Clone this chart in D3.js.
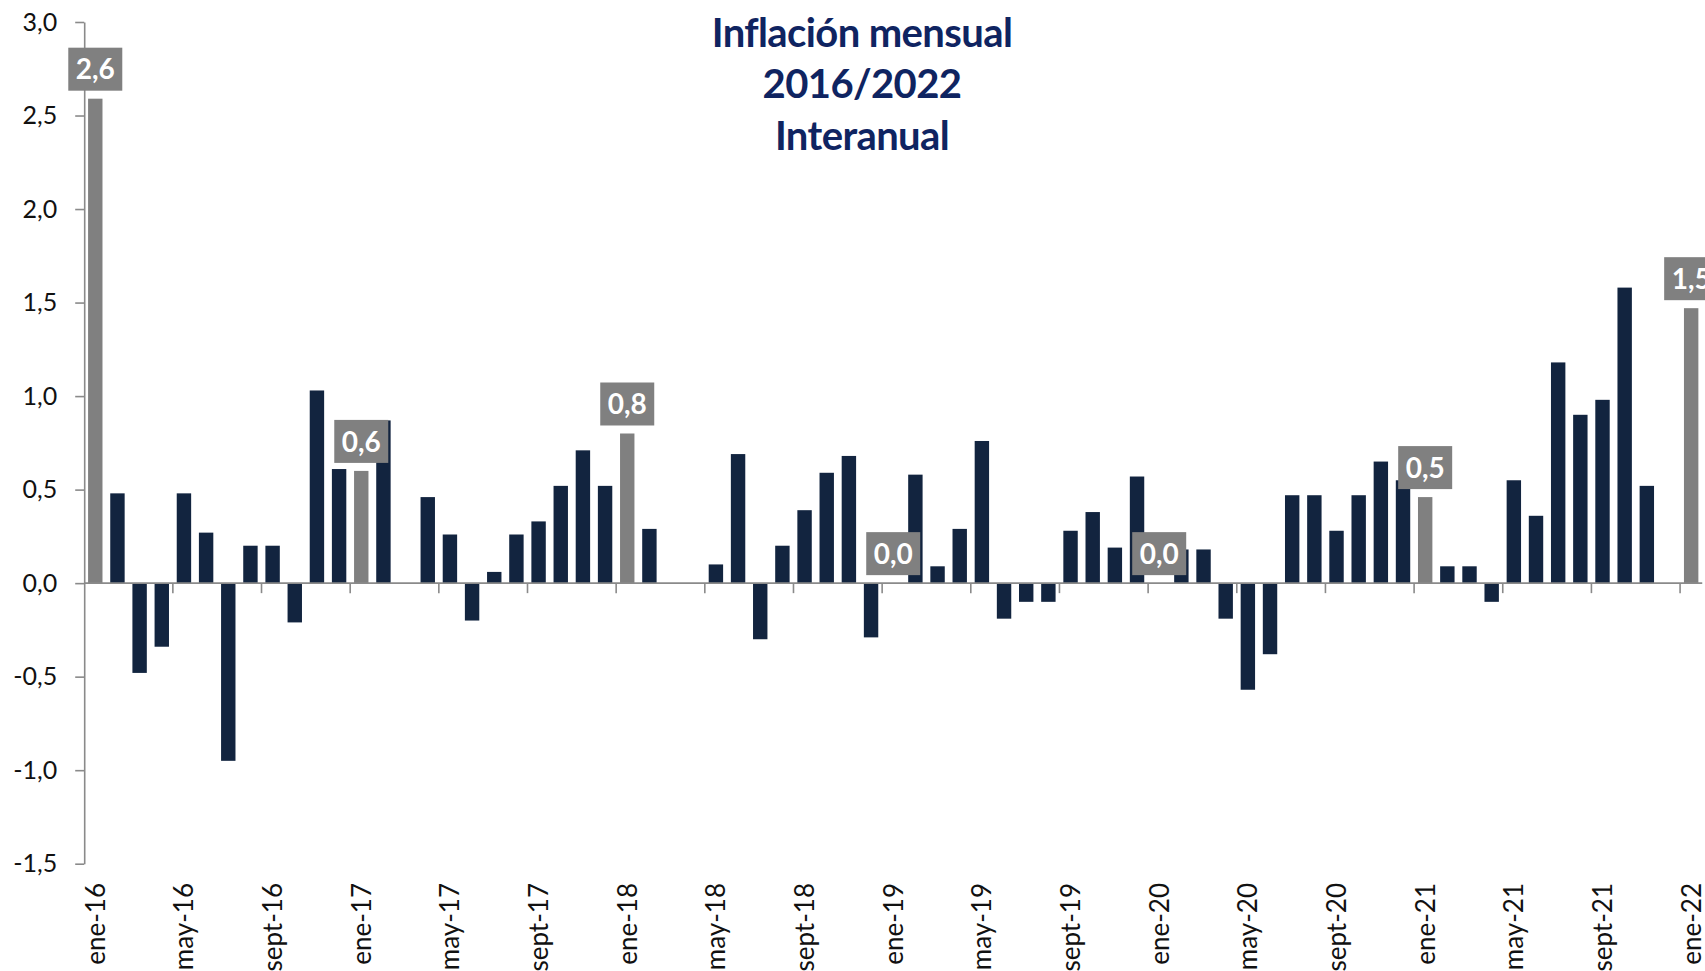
<!DOCTYPE html>
<html>
<head>
<meta charset="utf-8">
<script src="https://d3js.org/d3.v7.min.js"></script>
<style>
  body { margin: 0; background: #fff; }
  svg { display: block; font-family: Lato, "Open Sans", sans-serif; }
</style>
</head>
<body>
<div id="chart"></div>
<script>
// monthly CPI variation, ene-16 .. ene-22 (null = no bar shown)
const monthNames = ['ene','feb','mar','abr','may','jun','jul','ago','sept','oct','nov','dic']
const years = [16, 17, 18, 19, 20, 21, 22]
const values = [
  2.59, 0.48, -0.48, -0.34, 0.48, 0.27, -0.95, 0.20, 0.20, -0.21, 1.03, 0.61,
  0.60, 0.87, null, 0.46, 0.26, -0.20, 0.06, 0.26, 0.33, 0.52, 0.71, 0.52,
  0.80, 0.29, null, null, 0.10, 0.69, -0.30, 0.20, 0.39, 0.59, 0.68, -0.29,
  0.00, 0.58, 0.09, 0.29, 0.76, -0.19, -0.10, -0.10, 0.28, 0.38, 0.19, 0.57,
  0.00, 0.18, 0.18, -0.19, -0.57, -0.38, 0.47, 0.47, 0.28, 0.47, 0.65, 0.55,
  0.46, 0.09, 0.09, -0.10, 0.55, 0.36, 1.18, 0.90, 0.98, 1.58, 0.52, null,
  1.47
]
const yTicks = [-1.5, -1.0, -0.5, 0, 0.5, 1.0, 1.5, 2.0, 2.5, 3.0]
const titleLines = ['Inflación mensual', '2016/2022', 'Interanual']

const months = values.map((v, i) => monthNames[i % 12] + '-' + years[Math.floor(i / 12)])
const data = values.map((v, i) => ({ month: months[i], value: v, jan: i % 12 === 0, i: i }))

width = 1705
height = 971
left = 84.2
right = left + 73 * 22.165

const es = d3.formatLocale({ decimal: ',', thousands: '.', grouping: [3], currency: ['', '€'], minus: '-' })
const fmt = es.format('.1f')

svg = d3.select('#chart').append('svg')
  .attr('width', width)
  .attr('height', height)

xScale = d3.scaleBand()
  .domain(months)
  .range([left, right])
  .paddingInner(0.35)
  .paddingOuter(0.175)

yScale = d3.scaleLinear()
  .domain([-1.5, 3.0])
  .range([863.7, 22])

const step = xScale.step()
const x0 = left

// y axis
yAxis = d3.axisLeft(yScale)
  .tickValues(yTicks)
  .tickFormat(fmt)
  .tickSize(9)
  .tickSizeOuter(0)
  .tickPadding(18)

gy = svg.append('g')
  .attr('transform', `translate(${x0},0)`)
  .call(yAxis)
gy.select('.domain').attr('stroke', '#8a8a8a').attr('stroke-width', 1.6)
gy.selectAll('.tick line').attr('stroke', '#8a8a8a').attr('stroke-width', 1.6)
gy.selectAll('.tick text')
  .attr('font-size', 25)
  .attr('fill', '#111')
  .attr('font-family', 'Lato, sans-serif')

// bars
svg.append('g')
  .selectAll('rect')
  .data(data.filter(d => d.value !== null))
  .join('rect')
  .attr('x', d => xScale(d.month))
  .attr('width', xScale.bandwidth())
  .attr('y', d => yScale(Math.max(0, d.value)))
  .attr('height', d => Math.abs(yScale(d.value) - yScale(0)))
  .attr('fill', d => d.jan ? '#808080' : '#12243f')

// x axis line and ticks at every 4th boundary
const y0 = yScale(0)
svg.append('line')
  .attr('x1', x0).attr('x2', right)
  .attr('y1', y0).attr('y2', y0)
  .attr('stroke', '#8a8a8a').attr('stroke-width', 1.6)

svg.append('g')
  .selectAll('line')
  .data(data.filter(d => d.i % 4 === 0 && d.i > 0))
  .join('line')
  .attr('x1', d => xScale(d.month) - xScale.step() * 0.175)
  .attr('x2', d => xScale(d.month) - xScale.step() * 0.175)
  .attr('y1', y0)
  .attr('y2', y0 + 10)
  .attr('stroke', '#8a8a8a').attr('stroke-width', 1.6)

// x labels, rotated
svg.append('g')
  .selectAll('text')
  .data(data.filter(d => d.i % 4 === 0))
  .join('text')
  .attr('transform', d => `translate(${xScale(d.month) + xScale.bandwidth() / 2},883) rotate(-90)`)
  .attr('text-anchor', 'end')
  .attr('dy', '0.36em')
  .attr('font-size', 26)
  .attr('fill', '#111')
  .text(d => d.month)

// value labels for january
const lab = svg.append('g')
  .selectAll('g')
  .data(data.filter(d => d.jan))
  .join('g')
  .attr('transform', d => `translate(${xScale(d.month) + xScale.bandwidth() / 2},${yScale(Math.max(0, d.value)) - 8})`)

lab.append('rect')
  .attr('x', -27)
  .attr('y', -43)
  .attr('width', 54)
  .attr('height', 43)
  .attr('fill', '#808080')

lab.append('text')
  .attr('y', -21.5)
  .attr('dy', '0.36em')
  .attr('text-anchor', 'middle')
  .attr('font-size', 28)
  .attr('font-weight', 'bold')
  .attr('fill', '#fff')
  .text(d => fmt(d.value))

// title
svg.append('g')
  .selectAll('text')
  .data(titleLines)
  .join('text')
  .attr('x', 862)
  .attr('y', (d, i) => 46.7 + i * 51.7)
  .attr('text-anchor', 'middle')
  .attr('font-size', 40)
  .attr('font-weight', 'bold')
  .attr('letter-spacing', '-0.6px')
  .attr('fill', '#0f2461')
  .text(d => d)
</script>
</body>
</html>
